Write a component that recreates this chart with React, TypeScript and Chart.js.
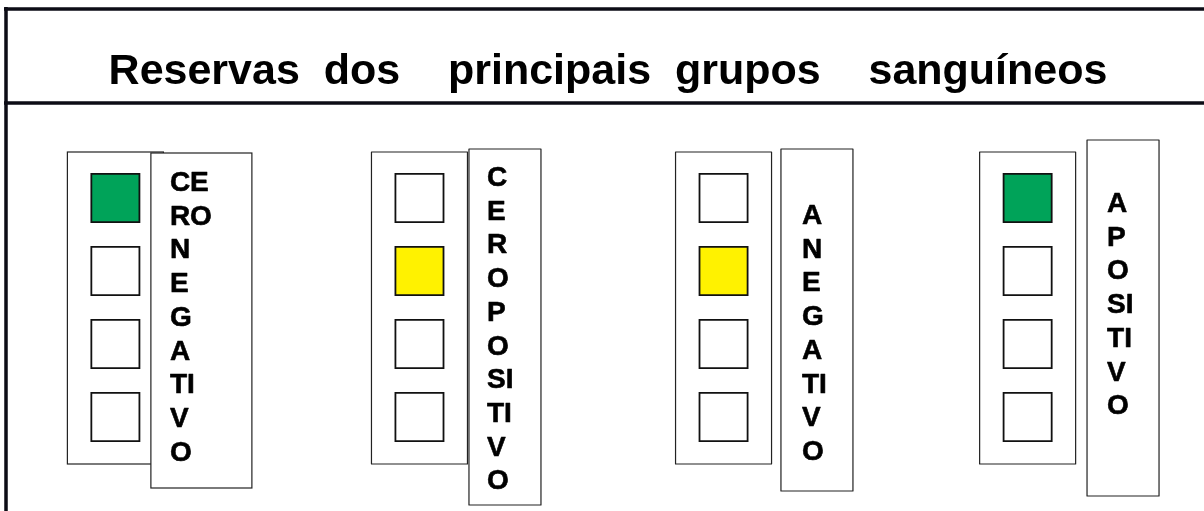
import { useEffect, useRef } from "react";
import { Chart, registerables } from "chart.js";

Chart.register(...registerables);

// ---------- data ----------
const TITLE = "Reservas  dos    principais  grupos    sanguíneos";
const groups = ["CERO NEGATIVO", "CERO POSITIVO", "A NEGATIVO", "A POSITIVO"];
const groupLabelLines = [
  ["CE", "RO", "N", "E", "G", "A", "TI", "V", "O"],
  ["C", "E", "R", "O", "P", "O", "SI", "TI", "V", "O"],
  ["A", "N", "E", "G", "A", "TI", "V", "O"],
  ["A", "P", "O", "SI", "TI", "V", "O"],
];
const levels = [1, 2, 3, 4];
const activeLevel = [1, 2, 2, 1];
const activeStatus = ["verde", "amarelo", "amarelo", "verde"];

// ---------- styles / layout ----------
const FONT = '"Liberation Sans", Arial, Helvetica, sans-serif';
const STATUS_COLORS: Record<string, string> = { verde: "#00A359", amarelo: "#FFF200" };
const EMPTY_COLOR = "#FFFFFF";
const LINE_STEP = 33.7;
const LABEL_BOX = [
  { x0: 35.5, x1: 136.5, top: 153, bottom: 488, textX: 54.5, baseline: 191 },
  { x0: 49.5, x1: 121.5, top: 149, bottom: 505, textX: 67.5, baseline: 186 },
  { x0: 57.4, x1: 129.4, top: 149, bottom: 491, textX: 78.4, baseline: 224 },
  { x0: 59.4, x1: 131.4, top: 140, bottom: 496, textX: 79.4, baseline: 212 },
];
const BORDER = { top: 9, left: 6, separator: 103, width: 3.5, color: "#0d0d16" };

const boardPlugin = {
  id: "board",
  beforeDatasetsDraw(chart: any) {
    const { ctx, scales } = chart;
    const x = scales.x;
    const y = scales.y;
    const W = chart.width;
    const H = chart.height;
    ctx.save();
    // outer border and title separator
    ctx.strokeStyle = BORDER.color;
    ctx.lineWidth = BORDER.width;
    ctx.beginPath();
    ctx.moveTo(BORDER.left - 2, BORDER.top);
    ctx.lineTo(W, BORDER.top);
    ctx.moveTo(BORDER.left, BORDER.top - 2);
    ctx.lineTo(BORDER.left, H);
    ctx.moveTo(BORDER.left - 2, BORDER.separator);
    ctx.lineTo(W, BORDER.separator);
    ctx.stroke();

    groups.forEach((_g, i) => {
      const cx = x.getPixelForValue(i);
      const top = y.getPixelForValue(levels[0]) - 46;
      const bottom = y.getPixelForValue(levels[levels.length - 1]) + 47;
      ctx.lineWidth = 1.2;
      ctx.strokeStyle = "#222222";
      ctx.fillStyle = "#ffffff";
      ctx.fillRect(cx - 48, top, 96, bottom - top);
      ctx.strokeRect(cx - 48, top, 96, bottom - top);

      const lb = LABEL_BOX[i];
      ctx.fillRect(cx + lb.x0, lb.top, lb.x1 - lb.x0, lb.bottom - lb.top);
      ctx.strokeRect(cx + lb.x0, lb.top, lb.x1 - lb.x0, lb.bottom - lb.top);

      ctx.fillStyle = "#000000";
      ctx.strokeStyle = "#000000";
      ctx.lineWidth = 0.6;
      ctx.lineJoin = "round";
      ctx.font = `bold 28px ${FONT}`;
      ctx.textAlign = "left";
      ctx.textBaseline = "alphabetic";
      groupLabelLines[i].forEach((t, k) => {
        const tx = cx + lb.textX;
        const ty = lb.baseline + k * LINE_STEP;
        ctx.fillText(t, tx, ty);
        ctx.strokeText(t, tx, ty);
      });
    });
    ctx.restore();
  },
};

export default function App() {
  const ref = useRef<HTMLCanvasElement | null>(null);

  useEffect(() => {
    document.body.style.margin = "0";
    const canvas = ref.current;
    if (!canvas) return;

    const points: { x: number; y: number }[] = [];
    const colors: string[] = [];
    groups.forEach((_g, gi) => {
      levels.forEach((lv) => {
        points.push({ x: gi, y: lv });
        colors.push(lv === activeLevel[gi] ? STATUS_COLORS[activeStatus[gi]] : EMPTY_COLOR);
      });
    });

    const chart = new Chart(canvas, {
      type: "scatter",
      data: {
        datasets: [
          {
            data: points,
            pointStyle: "rect",
            pointRadius: 34,
            pointHoverRadius: 34,
            pointBorderWidth: 1.8,
            pointBorderColor: "#111111",
            pointBackgroundColor: colors,
            clip: false,
          } as any,
        ],
      },
      options: {
        responsive: false,
        animation: false,
        events: [],
        layout: { autoPadding: false, padding: { left: 12, right: 0, top: 0, bottom: 21 } },
        plugins: {
          legend: { display: false },
          tooltip: { enabled: false },
          title: {
            display: true,
            text: TITLE,
            color: "#000000",
            font: { family: FONT, size: 43, weight: "bold", lineHeight: 1.2 },
            padding: { top: 46, bottom: 27.4 },
          },
        },
        scales: {
          x: { type: "linear", display: false, min: -0.34, max: 3.58 },
          y: { type: "linear", display: false, reverse: true, min: 0, max: 5 },
        },
      } as any,
      plugins: [boardPlugin],
    });

    return () => chart.destroy();
  }, []);

  return <canvas ref={ref} width={1204} height={511} style={{ display: "block" }} />;
}
